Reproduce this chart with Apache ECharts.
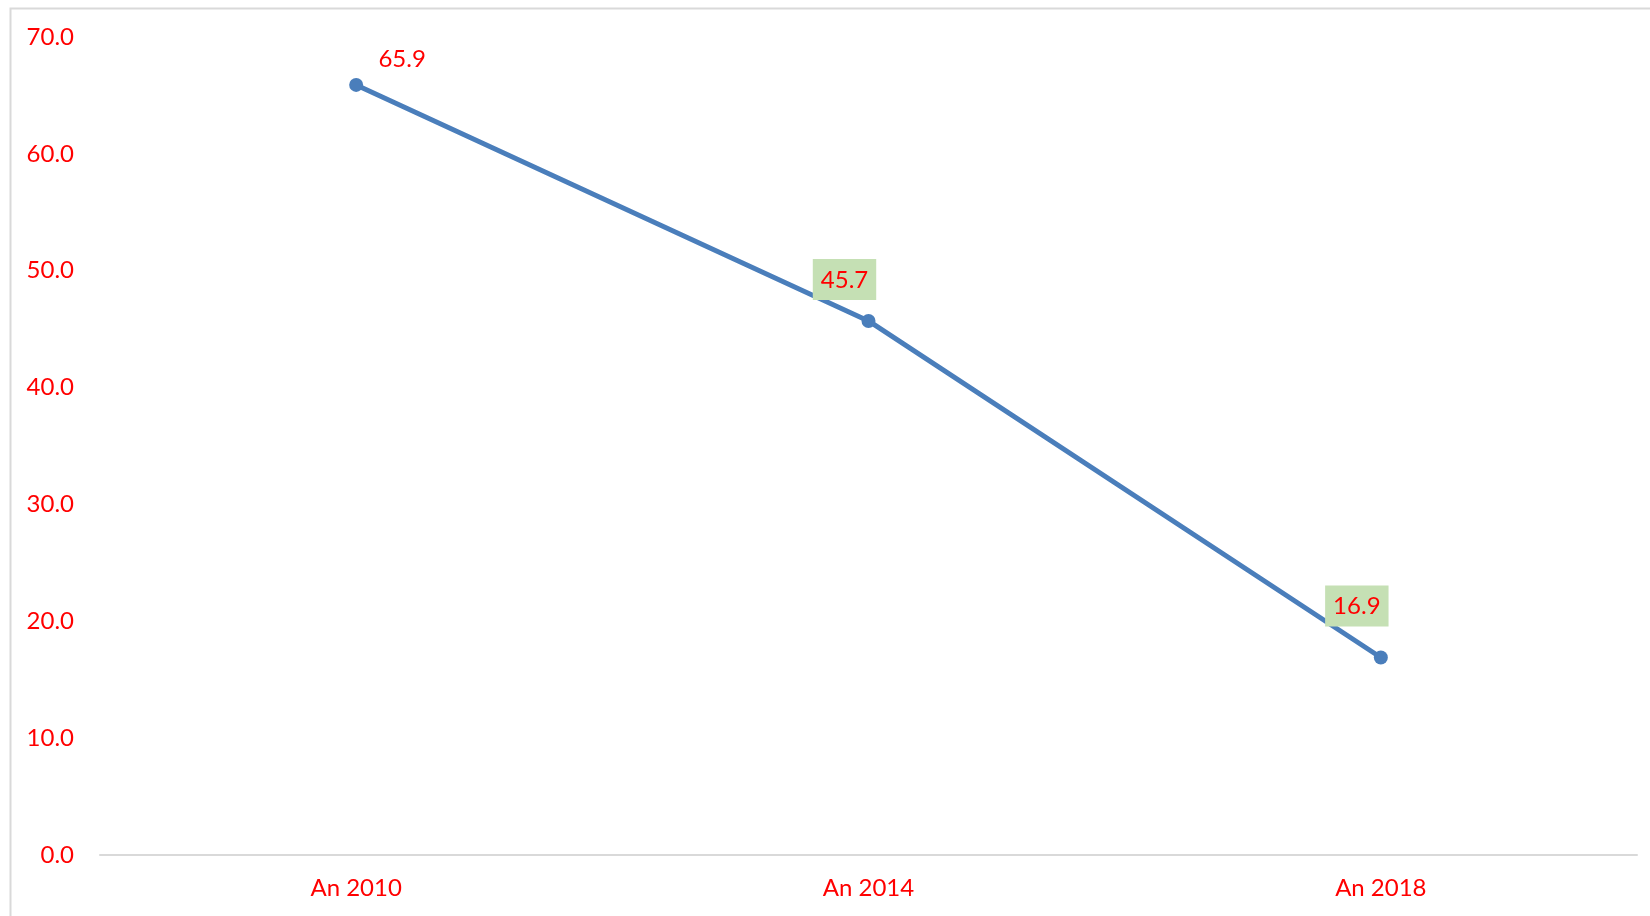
<!DOCTYPE html>
<html>
<head>
<meta charset="utf-8">
<script src="https://cdn.jsdelivr.net/npm/echarts@6/dist/echarts.min.js"></script>
<style>
  html, body { margin: 0; padding: 0; background: #fff; }
  #chart { width: 1650px; height: 916px; }
</style>
</head>
<body>
<div id="chart"></div>
<script>
// Values per survey year
const categories = ['An 2010', 'An 2014', 'An 2018'];
const values = [65.9, 45.7, 16.9];
const yTicks = [0, 10, 20, 30, 40, 50, 60, 70];

const FONT = 'Lato, "Open Sans", sans-serif';
const RED = '#FF0000';
const LINE = '#4A7EBB';

// Per-point label styling: the first one is plain, the other two sit on a green box
const labelStyles = [
  { offset: [46, 0], position: 'top', distance: 7 },
  { offset: [-24, 0], position: 'top', distance: 14, backgroundColor: '#C5E0B4', padding: [9, 8, 8, 8] },
  { offset: [-24, 0], position: 'top', distance: 24, backgroundColor: '#C5E0B4', padding: [9, 8, 8, 8] }
];

const seriesData = values.map((v, i) => ({
  value: v,
  label: Object.assign({
    show: true,
    color: RED,
    fontFamily: FONT,
    fontSize: 24,
    formatter: p => p.value.toFixed(1)
  }, labelStyles[i])
}));

const chart = echarts.init(document.getElementById('chart'), null, { renderer: 'canvas' });
chart.setOption({
  animation: false,
  backgroundColor: '#fff',
  graphic: [{
    type: 'rect',
    shape: { x: 10.5, y: 8.5, width: 1700, height: 1000 },
    style: { fill: 'none', stroke: '#D9D9D9', lineWidth: 2 },
    silent: true,
    z: -10
  }],
  grid: { left: 100, right: 13, top: 37, bottom: 61 },
  xAxis: {
    type: 'category',
    data: categories,
    boundaryGap: true,
    axisLine: { show: true, lineStyle: { color: '#D9D9D9', width: 2 } },
    axisTick: { show: false },
    axisLabel: { color: RED, fontFamily: FONT, fontSize: 24, margin: 21 }
  },
  yAxis: {
    type: 'value',
    min: yTicks[0],
    max: yTicks[yTicks.length - 1],
    interval: 10,
    axisLine: { show: false },
    axisTick: { show: false },
    splitLine: { show: false },
    axisLabel: {
      color: RED, fontFamily: FONT, fontSize: 24, margin: 26,
      formatter: v => v.toFixed(1)
    }
  },
  series: [{
    type: 'line',
    data: seriesData,
    symbol: 'circle',
    symbolSize: 14,
    lineStyle: { color: LINE, width: 5 },
    itemStyle: { color: LINE }
  }]
});
</script>
</body>
</html>
